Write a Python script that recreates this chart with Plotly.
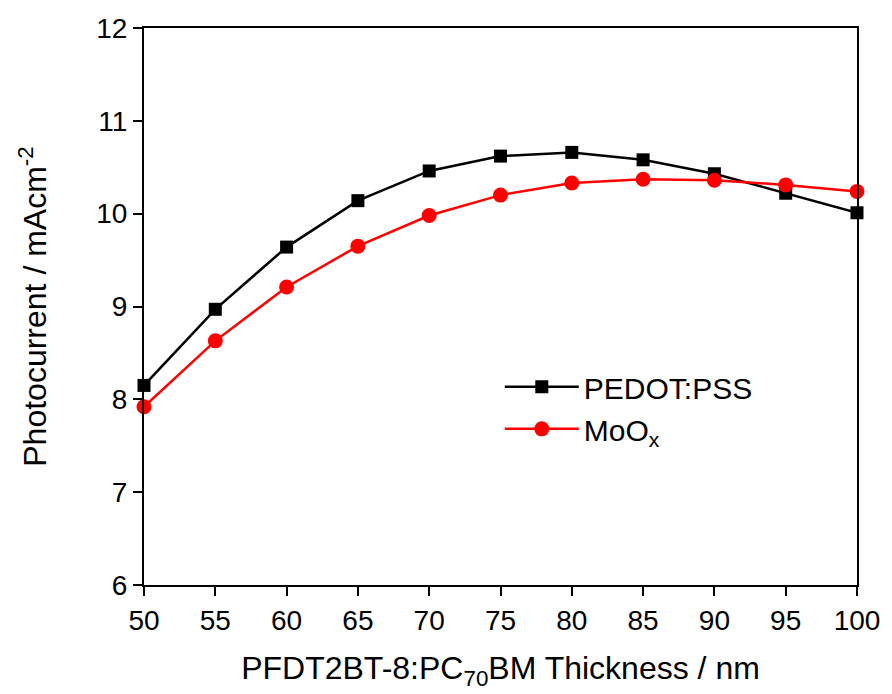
import plotly.graph_objects as go

# Active-layer thickness (nm)
thickness = [50, 55, 60, 65, 70, 75, 80, 85, 90, 95, 100]

# Short-circuit photocurrent (mA cm^-2) for the two hole-transport layers
pedot_pss = [8.15, 8.97, 9.64, 10.14, 10.46, 10.62, 10.66, 10.58, 10.43, 10.22, 10.01]
moox = [7.92, 8.63, 9.21, 9.65, 9.98, 10.20, 10.33, 10.37, 10.36, 10.31, 10.24]

x_ticks = list(range(50, 101, 5))
y_ticks = list(range(6, 13))

FONT = "Liberation Sans, Arial, sans-serif"

fig = go.Figure()
fig.add_trace(go.Scatter(
    x=thickness, y=pedot_pss, name="PEDOT:PSS",
    mode="lines+markers",
    line=dict(color="black", width=2.5),
    marker=dict(symbol="square", size=13, color="black"),
    cliponaxis=False,
))
fig.add_trace(go.Scatter(
    x=thickness, y=moox, name="MoO<sub>x</sub>",
    mode="lines+markers",
    line=dict(color="#ff0000", width=2.5),
    marker=dict(symbol="circle", size=15, color="#ff0000"),
    cliponaxis=False,
))

axis_common = dict(
    showline=True, linecolor="black", linewidth=2, mirror=True,
    ticks="outside", ticklen=9, tickwidth=2, tickcolor="black",
    showgrid=False, zeroline=False,
    tickfont=dict(family=FONT, size=28, color="black"),
)

fig.update_xaxes(
    range=[50, 100], tickvals=x_ticks,
    title=dict(text="PFDT2BT-8:PC<sub>70</sub>BM Thickness / nm",
               font=dict(family=FONT, size=32, color="black"), standoff=22),
    **axis_common,
)
fig.update_yaxes(
    range=[6, 12], tickvals=y_ticks,
    title=dict(text="Photocurrent / mAcm<sup>-2</sup>",
               font=dict(family=FONT, size=32, color="black"), standoff=40),
    **axis_common,
)

fig.update_layout(
    width=892, height=694,
    margin=dict(l=144, r=30, t=28, b=109),
    paper_bgcolor="white", plot_bgcolor="white",
    font=dict(family=FONT, color="black"),
    legend=dict(
        x=0.499, y=0.318, xanchor="left", yanchor="middle",
        bgcolor="rgba(0,0,0,0)", borderwidth=0,
        font=dict(family=FONT, size=30, color="black"),
        itemwidth=74, tracegroupgap=0,
    ),
)

fig.write_html("out.html")
